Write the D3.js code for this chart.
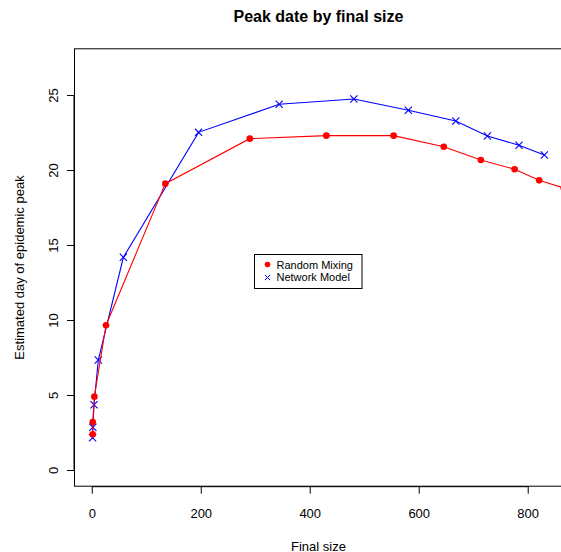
<!DOCTYPE html>
<html>
<head>
<meta charset="utf-8">
<script src="https://cdn.jsdelivr.net/npm/d3@7"></script>
<style>
  html, body { margin: 0; padding: 0; background: #fff; }
  svg { display: block; font-family: "Liberation Sans", Arial, Helvetica, sans-serif; }
</style>
</head>
<body>
<svg id="chart" width="561" height="552"></svg>
<script>
// Final epidemic size vs estimated day of peak, two models
const networkSize = [1.5, 2, 4.2, 12, 58, 196, 344, 481, 581, 668, 726, 784, 830.5];
const networkPeak = [2.15, 2.85, 4.35, 7.33, 14.18, 22.51, 24.38, 24.73, 23.98, 23.27, 22.27, 21.65, 21.0];

const mixingSize = [1.8, 1.8, 4.8, 26.2, 135, 290, 430.5, 554, 646, 714, 776, 821, 866];
const mixingPeak = [2.38, 3.2, 4.89, 9.65, 19.09, 22.09, 22.29, 22.29, 21.55, 20.67, 20.05, 19.31, 18.8];

const xTicks = [0, 200, 400, 600, 800];
const yTicks = [0, 5, 10, 15, 20, 25];
const seriesNames = ["Random Mixing", "Network Model"];
const seriesColors = ["#ff0000", "#0000ff"];

const plot = { left: 74.5, right: 562.4, top: 48.8, bottom: 486.2 };

// Axis ranges padded by 4% the way base graphics does
const xMin = d3.min(networkSize), xMax = d3.max(networkSize);
const xPad = (xMax - xMin) * 0.04;
const x = d3.scaleLinear().domain([xMin - xPad, xMax + xPad]).range([plot.left, plot.right]);
const y = d3.scaleLinear().domain([0 - 27 * 0.04, 27 + 27 * 0.04]).range([plot.bottom, plot.top]);

const svg = d3.select("#chart");

svg.append("defs").append("clipPath").attr("id", "plotClip")
  .append("rect")
  .attr("x", plot.left).attr("y", plot.top)
  .attr("width", plot.right - plot.left).attr("height", plot.bottom - plot.top);

// Title
svg.append("text")
  .attr("x", (plot.left + plot.right) / 2).attr("y", 22)
  .attr("text-anchor", "middle")
  .attr("font-weight", "bold").attr("font-size", 16)
  .text("Peak date by final size");

// Axes
const xAxis = d3.axisBottom(x).tickValues(xTicks).tickSize(7.5).tickPadding(15).tickSizeOuter(0);
const gx = svg.append("g").attr("transform", `translate(0,${plot.bottom})`).call(xAxis);
gx.select(".domain").attr("d", `M${x(xTicks[0])},0.5H${x(xTicks[xTicks.length - 1])}`);
gx.selectAll("text").attr("font-size", 13).attr("font-family", null).attr("fill", "#000");
gx.selectAll("line").attr("stroke", "#000");

const yAxis = d3.axisLeft(y).tickValues(yTicks).tickSize(7.5).tickSizeOuter(0).tickFormat(d3.format("d"));
const gy = svg.append("g").attr("transform", `translate(${plot.left},0)`).call(yAxis);
gy.select(".domain").attr("d", `M-0.5,${y(yTicks[0])}V${y(yTicks[yTicks.length - 1])}`);
gy.selectAll("line").attr("stroke", "#000");
// tick labels run upward, parallel to the axis
gy.selectAll("text")
  .attr("font-size", 13).attr("font-family", null).attr("fill", "#000")
  .attr("x", null).attr("y", null).attr("dy", null)
  .attr("text-anchor", "middle")
  .attr("transform", "translate(-17,0) rotate(-90)");

// Plot frame
svg.append("rect")
  .attr("x", plot.left).attr("y", plot.top)
  .attr("width", plot.right - plot.left).attr("height", plot.bottom - plot.top)
  .attr("fill", "none").attr("stroke", "#000").attr("stroke-width", 1);

// Axis titles
svg.append("text")
  .attr("x", (plot.left + plot.right) / 2).attr("y", 550.5)
  .attr("text-anchor", "middle").attr("font-size", 13)
  .text("Final size");
svg.append("text")
  .attr("transform", `translate(24,${(plot.top + plot.bottom) / 2}) rotate(-90)`)
  .attr("text-anchor", "middle").attr("font-size", 13)
  .text("Estimated day of epidemic peak");

// Data
const g = svg.append("g").attr("clip-path", "url(#plotClip)");
const line = d3.line().x(d => x(d[0])).y(d => y(d[1]));

const netPts = networkSize.map((s, i) => [s, networkPeak[i]]);
const mixPts = mixingSize.map((s, i) => [s, mixingPeak[i]]);

g.append("path").datum(netPts).attr("d", line)
  .attr("fill", "none").attr("stroke", seriesColors[1]).attr("stroke-width", 1.1);
const cross = 3.6;
g.selectAll(".net").data(netPts).enter().append("path")
  .attr("d", d => `M${x(d[0]) - cross},${y(d[1]) - cross}L${x(d[0]) + cross},${y(d[1]) + cross}M${x(d[0]) - cross},${y(d[1]) + cross}L${x(d[0]) + cross},${y(d[1]) - cross}`)
  .attr("stroke", seriesColors[1]).attr("stroke-width", 1.1).attr("fill", "none");

g.append("path").datum(mixPts).attr("d", line)
  .attr("fill", "none").attr("stroke", seriesColors[0]).attr("stroke-width", 1.1);
g.selectAll(".mix").data(mixPts).enter().append("circle")
  .attr("cx", d => x(d[0])).attr("cy", d => y(d[1])).attr("r", 3.3)
  .attr("fill", seriesColors[0]);

// Legend
const lg = svg.append("g").attr("transform", "translate(254.5,254.5)");
lg.append("rect").attr("width", 107.5).attr("height", 34)
  .attr("fill", "#fff").attr("stroke", "#000").attr("stroke-width", 1);
lg.append("circle").attr("cx", 13).attr("cy", 10).attr("r", 2.8).attr("fill", seriesColors[0]);
const c = 2.6;
lg.append("path")
  .attr("d", `M${13 - c},${23 - c}L${13 + c},${23 + c}M${13 - c},${23 + c}L${13 + c},${23 - c}`)
  .attr("stroke", seriesColors[1]).attr("stroke-width", 1);
seriesNames.forEach((n, i) => {
  lg.append("text").attr("x", 22).attr("y", 14 + i * 12.5)
    .attr("font-size", 11).text(n);
});
</script>
</body>
</html>
